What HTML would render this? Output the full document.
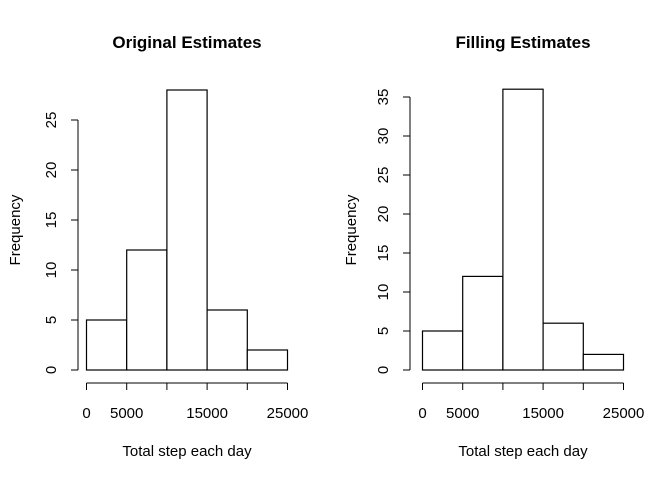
<!DOCTYPE html>
<html><head><meta charset="utf-8"><style>body{margin:0;background:#fff}svg{display:block;font-family:"Liberation Sans",Arial,sans-serif}</style></head>
<body>
<svg id="c" width="672" height="480" xmlns="http://www.w3.org/2000/svg"></svg>
<script>
const breaks=[0,5000,10000,15000,20000,25000];
const xTickLabels=["0","5000","","15000","","25000"];
const origCounts=[5,12,28,6,2];
const fillCounts=[5,12,36,6,2];
const origYTicks=[0,5,10,15,20,25];
const fillYTicks=[0,5,10,15,20,25,30,35];
const svg=document.getElementById('c');
const NS="http://www.w3.org/2000/svg";
function mk(t,a,p){const e=document.createElementNS(NS,t);for(const k in a)e.setAttribute(k,a[k]);(p||svg).appendChild(e);return e;}
function panel(off,counts,yTicks,yMax,title,id){
  const g=mk('g',{});
  
  
  const x0=86.5+off,x1=287.5+off,y0=370,y1=370-yMax*(off?7.8:10);
  const X=v=>x0+(v-breaks[0])/(breaks[breaks.length-1]-breaks[0])*(x1-x0);
  const Y=v=>y0-v*(y0-y1)/yMax;
  counts.forEach((c,i)=>{const r=mk('rect',{x:X(breaks[i]),y:Y(c),width:X(breaks[i+1])-X(breaks[i]),height:Y(0)-Y(c),fill:'#fff',stroke:'#000','stroke-width':1.2},g);
    
    });
  const ax=78+off-(off?4:0);
  const ya=mk('g',{},g);
  
  
  mk('line',{x1:ax,x2:ax,y1:Y(yTicks[0]),y2:Y(yTicks[yTicks.length-1]),stroke:'#000'},ya);
  yTicks.forEach(t=>{mk('line',{x1:ax-7,x2:ax,y1:Y(t),y2:Y(t),stroke:'#000'},ya);
    const tx=mk('text',{x:0,y:0,transform:`translate(${ax-22},${Y(t)}) rotate(-90)`,'text-anchor':'middle','font-size':15},ya);tx.textContent=t;});
  const xa=mk('g',{},g);
  
  
  mk('line',{x1:X(breaks[0]),x2:X(breaks[breaks.length-1]),y1:383,y2:383,stroke:'#000'},xa);
  breaks.forEach((b,i)=>{mk('line',{x1:X(b),x2:X(b),y1:383,y2:390,stroke:'#000'},xa);
    if(xTickLabels[i]){const tx=mk('text',{x:X(b),y:418,'text-anchor':'middle','font-size':15},xa);tx.textContent=xTickLabels[i];}});
  const tt=mk('text',{x:(x0+x1)/2,y:48,'text-anchor':'middle','font-size':17,'font-weight':'bold'},g);tt.textContent=title;
  
  const xl=mk('text',{x:(x0+x1)/2,y:456,'text-anchor':'middle','font-size':15},g);xl.textContent='Total step each day';
  
  const yl=mk('text',{x:0,y:0,transform:`translate(${20+off},230) rotate(-90)`,'text-anchor':'middle','font-size':15},g);yl.textContent='Frequency';
  
}
panel(0,origCounts,origYTicks,25,'Original Estimates','original-histogram');
panel(336,fillCounts,fillYTicks,35,'Filling Estimates','filling-histogram');
</script>
</body></html>
